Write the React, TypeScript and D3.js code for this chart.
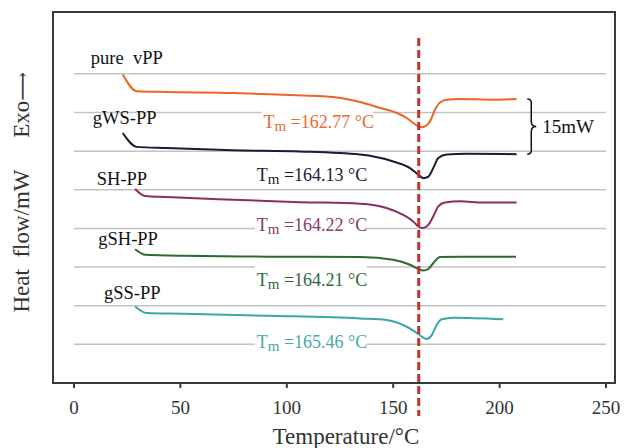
import React from 'react';
import * as d3 from 'd3';

const W = 626;
const H = 448;

// frame (plot area border)
const FRAME = { left: 53, top: 12, right: 615, bottom: 383 };

const xTicks = [0, 50, 100, 150, 200, 250];
const gridValues = [10, 20, 30, 40, 50, 60, 70, 80];
const tmRefLine = 162;

const sampleNames = ['pure  vPP', 'gWS-PP', 'SH-PP', 'gSH-PP', 'gSS-PP'];
const tmValues = ['162.77', '164.13', '164.22', '164.21', '165.46'];
const lineColors = ['#ea6526', '#1c1b33', '#8a2f62', '#2d6a33', '#3aa7a6'];
const textColors = ['#ea6a2e', '#1c1b33', '#8a3a6a', '#2d6a38', '#46aaaa'];

// sample-name label anchors (temperature, heat flow)
const nameT = [7.9, 8.8, 10.7, 11.4, 14.1];
const nameV = [82.6, 67.1, 51.3, 35.8, 21.8];
// Tm label anchors
const tmT = [89.0, 85.9, 85.9, 85.9, 85.9];
const tmV = [66.1, 52.3, 39.4, 25.1, 9.1];

// DSC curves (temperature °C, heat flow mW, offset)
const vPP_T = [22.9, 29.5, 43.6, 74.7, 98.2, 121.7, 134.4, 143.8, 151.6, 156.3, 159.4, 161.8, 163.5, 164.9, 167.3, 169.6, 172.0, 175.1, 181.4, 196.9, 208.0];
const vPP_HF = [79.8, 75.5, 75.3, 75.05, 74.6, 74.0, 72.7, 71.2, 69.9, 68.6, 67.3, 66.4, 66.2, 66.4, 67.7, 70.7, 72.6, 73.3, 73.5, 73.3, 73.5];

const gWS_T = [22.9, 29.5, 43.6, 74.7, 106.2, 134.4, 150.0, 157.9, 161.8, 164.1, 166.5, 168.8, 171.2, 175.1, 184.5, 208.0];
const gWS_HF = [64.7, 61.1, 60.8, 60.2, 59.9, 59.1, 57.3, 55.6, 53.9, 53.0, 53.4, 55.6, 58.2, 59.1, 59.3, 59.2];

const SH_T = [28.7, 33.4, 43.6, 74.7, 106.2, 134.4, 146.9, 154.7, 159.4, 161.8, 164.1, 166.5, 168.8, 171.2, 174.3, 181.4, 192.3, 208.0];
const SH_HF = [50.2, 48.4, 48.1, 47.4, 46.8, 46.4, 45.3, 43.5, 41.8, 40.5, 40.1, 40.9, 43.1, 45.7, 46.7, 47.0, 46.7, 46.7];

const gSH_T = [28.7, 33.4, 51.2, 90.6, 134.4, 150.0, 157.9, 161.8, 164.1, 166.5, 168.8, 172.0, 181.4, 207.7];
const gSH_HF = [34.6, 33.2, 32.9, 32.7, 32.6, 31.9, 30.6, 29.5, 29.1, 29.5, 31.0, 32.6, 32.7, 32.7];

const gSS_T = [28.7, 34.2, 51.4, 90.6, 134.4, 146.9, 154.7, 160.2, 163.4, 165.7, 168.1, 170.4, 172.8, 178.2, 201.7];
const gSS_HF = [19.8, 18.1, 17.9, 17.4, 16.7, 16.3, 15.0, 13.3, 12.0, 11.4, 12.4, 15.0, 16.5, 16.9, 16.5];

const seriesT = [vPP_T, gWS_T, SH_T, gSH_T, gSS_T];
const seriesHF = [vPP_HF, gWS_HF, SH_HF, gSH_HF, gSS_HF];

const bracketT = 213;
const FONT = '"Liberation Serif", "Times New Roman", serif';

export default function App() {
  const x = d3.scaleLinear().domain([0, 250]).range([74, 606]);
  const y = d3.scaleLinear().domain([0, 96]).range([FRAME.bottom, FRAME.top]);

  const line = d3
    .line<[number, number]>()
    .x((d) => x(d[0]))
    .y((d) => y(d[1]))
    .curve(d3.curveMonotoneX);

  const bTop = y(vPP_HF[vPP_HF.length - 1]);
  const bBot = y(gWS_HF[gWS_HF.length - 1]);
  const bx = x(bracketT);
  const bMid = (bTop + bBot) / 2;
  const bracePath =
    `M${bx},${bTop} C${bx + 5},${bTop} ${bx + 4},${bTop + 4} ${bx + 4},${bTop + 8} ` +
    `L${bx + 4},${bMid - 5} C${bx + 4},${bMid - 1} ${bx + 6},${bMid} ${bx + 9},${bMid} ` +
    `C${bx + 6},${bMid} ${bx + 4},${bMid + 1} ${bx + 4},${bMid + 5} ` +
    `L${bx + 4},${bBot - 8} C${bx + 4},${bBot - 4} ${bx + 5},${bBot} ${bx},${bBot}`;

  return (
    <svg
      width={W}
      height={H}
      style={{ position: 'absolute', left: 0, top: 0, background: '#fff' }}
      fontFamily={FONT}
    >
      <rect x={0} y={0} width={W} height={H} fill="#fff" />
      {/* gridlines */}
      {gridValues.map((g) => (
        <line key={g} x1={x(0)} x2={x(250)} y1={y(g)} y2={y(g)} stroke="#c2c2c2" strokeWidth={1.5} />
      ))}
      {/* frame */}
      <rect
        x={FRAME.left}
        y={FRAME.top}
        width={FRAME.right - FRAME.left}
        height={FRAME.bottom - FRAME.top}
        fill="none"
        stroke="#3a3a3a"
        strokeWidth={2}
      />
      {/* x ticks */}
      {xTicks.map((t) => (
        <g key={t}>
          <line x1={x(t)} x2={x(t)} y1={FRAME.bottom} y2={FRAME.bottom + 5} stroke="#3a3a3a" strokeWidth={2} />
          <text x={x(t)} y={414} textAnchor="middle" fontSize={19} fill="#333">
            {t}
          </text>
        </g>
      ))}
      {/* Tm labels with white background */}
      {tmValues.map((v, i) => (
        <g key={v + i}>
          <rect x={x(tmT[i]) - 2} y={y(tmV[i]) - 20} width={112} height={26} fill="#fff" />
          <text x={x(tmT[i])} y={y(tmV[i])} fontSize={18} fill={textColors[i]}>
            T<tspan fontSize={15} dy={3}>m</tspan>
            <tspan dy={-3}>{` =${v} °C`}</tspan>
          </text>
        </g>
      ))}
      {/* curves */}
      {seriesT.map((ts, i) => (
        <path
          key={i}
          d={line(ts.map((t, j) => [t, seriesHF[i][j]] as [number, number])) || ''}
          fill="none"
          stroke={lineColors[i]}
          strokeWidth={2}
          strokeLinejoin="round"
        />
      ))}
      {/* sample names */}
      {sampleNames.map((n, i) => (
        <text key={n} x={x(nameT[i])} y={y(nameV[i])} fontSize={18.5} fill="#111" style={{ whiteSpace: 'pre' }}>
          {n}
        </text>
      ))}
      {/* dashed reference line */}
      <line
        x1={x(tmRefLine)}
        x2={x(tmRefLine)}
        y1={38}
        y2={416}
        stroke="#c4302b"
        strokeWidth={3}
        strokeDasharray="8,4"
      />
      {/* bracket */}
      <path d={bracePath} fill="none" stroke="#111" strokeWidth={1.5} />
      <text x={bx + 15} y={bMid + 6} fontSize={19} fill="#111">
        15mW
      </text>
      {/* axis titles */}
      <text x={(FRAME.left + FRAME.right) / 2 + 12} y={444} textAnchor="middle" fontSize={23} fill="#333">
        Temperature/°C
      </text>
      <text transform="translate(29,241) rotate(-90)" textAnchor="middle" fontSize={23} fill="#333" style={{ whiteSpace: 'pre' }}>
        {'Heat  flow/mW'}
      </text>
      <text transform="translate(29,105) rotate(-90)" textAnchor="middle" fontSize={23} fill="#333">
        Exo<tspan fontFamily='"DejaVu Serif", serif' fontSize={20}>⟶</tspan>
      </text>
    </svg>
  );
}
